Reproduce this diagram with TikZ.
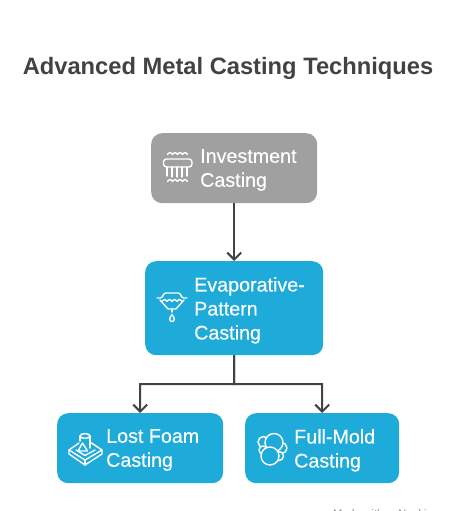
\documentclass[tikz,border=0pt]{standalone}
\usepackage{fontspec}
\setmainfont{Liberation Sans}
\newfontfamily\bodyfont[FakeBold=0.25]{Liberation Sans}
\usetikzlibrary{arrows.meta}
\definecolor{blueb}{HTML}{1EABDA}
\definecolor{greyb}{HTML}{A0A0A0}
\definecolor{ink}{HTML}{424242}
\tikzset{
  x=1pt,y=-1pt,
  card/.style={draw=none,rounded corners=11pt,inner sep=0pt,anchor=north west},
  cardtext/.style={anchor=north west,inner sep=0pt,text=white,font=\bodyfont\fontsize{19.7}{24}\selectfont,align=left},
  link/.style={draw=ink,line width=2pt,-{Straight Barb[length=7pt,width=14pt,line width=2pt]}},
  ic/.style={draw=white,line width=1.4pt,line cap=round,line join=round},
  icf/.style={ic,fill=blueb},
}
\newcommand{\wavy}[2]{(#1,#2) .. controls (#1+2,#2-2.5) and (#1+3,#2-2.5) .. (#1+5,#2) .. controls (#1+7,#2-2.5) and (#1+8,#2-2.5) .. (#1+10,#2) .. controls (#1+12,#2-2.5) and (#1+13,#2-2.5) .. (#1+15,#2) .. controls (#1+17,#2-2.5) and (#1+18,#2-2.5) .. (#1+20,#2)}
\begin{document}
\begin{tikzpicture}
\useasboundingbox[fill=white] (0,0) rectangle (456,511);
\node[anchor=center,inner sep=0pt,text=ink,font=\fontsize{23.7}{28}\selectfont\bfseries] (title) at (228,68) {Advanced Metal Casting Techniques};
\node[card,fill=greyb,minimum width=166pt,minimum height=70pt] (inv) at (151,133) {};
\node[card,fill=blueb,minimum width=178pt,minimum height=94pt] (evap) at (145,261) {};
\node[card,fill=blueb,minimum width=166pt,minimum height=70pt] (lost) at (57,413) {};
\node[card,fill=blueb,minimum width=154pt,minimum height=70pt] (full) at (245,413) {};
\node[cardtext] (tinv) at (200,149) {Investment\\Casting};
\node[cardtext] (tevap) at (194,277) {Evaporative-\\Pattern\\Casting};
\node[cardtext] (tlost) at (106,429) {Lost Foam\\Casting};
\node[cardtext] (tfull) at (294,429) {Full-Mold\\Casting};
\coordinate (bus) at (234,384);
\draw[link] (inv.south) -- (evap.north);
\draw[link] (evap.south) -- (bus) -| (lost.north);
\draw[link] (evap.south) -- (bus) -| (full.north);
% icon: investment
\draw[ic,rounded corners=3pt] (163.5,159) rectangle (192,167);
\draw[ic] (167,167) -- (167,176) (172,167) -- (172,177) (177,167) -- (177,177) (182,167) -- (182,177) (187,167) -- (187,176);
\draw[ic] \wavy{167.5}{154.5};
\draw[ic] \wavy{167.5}{181.5};
% icon: evaporative
\draw[ic,rounded corners=1.5pt] (157,298) -- (162,298) -- (164,293) -- (180,293) -- (182,298) -- (187,298);
\draw[ic] (160,300) -- (168,309) -- (176,309) -- (184,300);
\draw[ic] \wavy{162}{301.5};
\draw[ic] (172,309) -- (172,312);
\draw[ic] (172,314.5) .. controls (169,318) and (169,321.5) .. (172,321.5) .. controls (175,321.5) and (175,318) .. (172,314.5);
% icon: lost foam
\draw[ic] (79,443) -- (69,450) -- (85,460) -- (102,450) -- (90,442);
\draw[ic] (69,450) -- (69,454) -- (85,465) -- (102,454) -- (102,450);
\draw[ic] (85,460) -- (85,465);
\draw[ic] (76,450) -- (85,455.5) -- (95,450);
\draw[ic] (80,436) -- (80,441) (90,436) -- (90,448);
\draw[ic] (85,436) ellipse [x radius=5,y radius=2.4];
\draw[icf] (82.5,443) -- (78,451) -- (87.5,451) -- cycle;
% icon: full mold
\draw[icf] (263.5,442) circle [radius=5.5];
\draw[icf] (281.5,448) circle [radius=5.5];
\draw[icf] (279,456) circle [radius=4.5];
\draw[icf] (263,450) circle [radius=4];
\draw[icf] (274,442.5) circle [radius=9];
\draw[icf] (270,456) circle [radius=9];
\begin{scope}
\clip (320,505) rectangle (456,511);
\node[anchor=north west,inner sep=0pt,text=black!45,font=\fontsize{11}{13}\selectfont] (mark) at (333,509) {Made with \hspace{12pt}Napkin};
\end{scope}
\end{tikzpicture}
\end{document}
